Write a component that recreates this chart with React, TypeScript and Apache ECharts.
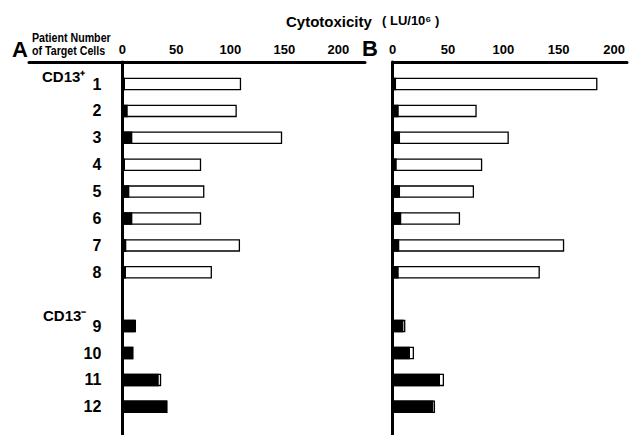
import React, { useEffect, useRef } from "react";
import * as echarts from "echarts";

const categories = ["1", "2", "3", "4", "5", "6", "7", "8", "", "9", "10", "11", "12"];
const openA = [110, 106, 148, 73, 76, 73, 109, 83, null, 12.7, 10.2, 36, 41.7];
const blackA = [2.5, 5, 9.3, 2.5, 6.5, 9.3, 3.7, 3.4, null, 11.8, 10.2, 33.7, 41.7];
const openB = [185, 76, 105, 81, 73.6, 61, 155, 133, null, 11.6, 19.4, 46.5, 38.4];
const blackB = [3.2, 5.6, 6.8, 3.8, 6.8, 7.9, 6.1, 5.6, null, 9.8, 15.8, 42.9, 36.8];
const tickValues = [0, 50, 100, 150, 200];

const SANS = "'Liberation Sans', Arial, Helvetica, sans-serif";

export default function App() {
  const ref = useRef<HTMLDivElement>(null);
  useEffect(() => {
    if (!ref.current) return;
    const chart = echarts.init(ref.current, undefined, { renderer: "svg" });
    const frameX = (min: number, max: number) => ({
      type: "value",
      position: "top",
      min,
      max,
      axisLine: { show: true, onZero: false, lineStyle: { color: "#000", width: 3 } },
      axisTick: { show: false },
      splitLine: { show: false },
      axisLabel: {
        customValues: tickValues,
        color: "#000",
        fontFamily: SANS,
        fontWeight: "bold",
        fontSize: 13,
        margin: 6,
      },
    });
    const frameY = {
      type: "value",
      min: 0,
      max: 1,
      axisLine: { show: true, onZero: true, lineStyle: { color: "#000", width: 3 } },
      axisTick: { show: false },
      axisLabel: { show: false },
      splitLine: { show: false },
    };
    const barX = (max: number) => ({
      type: "value",
      min: 0,
      max,
      show: false,
      splitLine: { show: false },
    });
    const barY = (showLabels: boolean) => ({
      type: "category",
      data: categories,
      inverse: true,
      axisLine: { show: false },
      axisTick: { show: false },
      axisLabel: {
        show: showLabels,
        color: "#000",
        fontFamily: SANS,
        fontWeight: "bold",
        fontSize: 16,
        margin: 21,
      },
    });
    const openStyle = { color: "#fff", borderColor: "#000", borderWidth: 1.3 };
    const blackStyle = { color: "#000", borderColor: "#000", borderWidth: 1.3 };
    const barTop = 70.55;
    const barHeight = 349.7;
    const g = { outerBoundsMode: "none", containLabel: false };
    chart.setOption({
      animation: false,
      backgroundColor: "#fff",
      grid: [
        { ...g, left: 29, top: 62, width: 336, height: 380 },
        { ...g, left: 122.3, top: barTop, width: 242.7, height: barHeight },
        { ...g, left: 392.5, top: 62, width: 234.5, height: 380 },
        { ...g, left: 392.5, top: barTop, width: 234.5, height: barHeight },
      ],
      xAxis: [
        { ...frameX(-86.4, 224.7), gridIndex: 0 },
        { ...barX(224.7), gridIndex: 1 },
        { ...frameX(0, 211.7), gridIndex: 2 },
        { ...barX(211.7), gridIndex: 3 },
      ],
      yAxis: [
        { ...frameY, gridIndex: 0 },
        { ...barY(true), gridIndex: 1 },
        { ...frameY, gridIndex: 2 },
        { ...barY(false), gridIndex: 3 },
      ],
      series: [
        { type: "bar", xAxisIndex: 1, yAxisIndex: 1, data: openA, barWidth: 12.5, barGap: "-100%", itemStyle: openStyle },
        { type: "bar", xAxisIndex: 1, yAxisIndex: 1, data: blackA, barWidth: 12.5, barGap: "-100%", itemStyle: blackStyle },
        { type: "bar", xAxisIndex: 3, yAxisIndex: 3, data: openB, barWidth: 12.5, barGap: "-100%", itemStyle: openStyle },
        { type: "bar", xAxisIndex: 3, yAxisIndex: 3, data: blackB, barWidth: 12.5, barGap: "-100%", itemStyle: blackStyle },
      ],
      graphic: [
        { type: "text", x: 12, y: 49.5, style: { text: "A", fontSize: 22, fontWeight: "bold", fontFamily: SANS, fill: "#000", textVerticalAlign: "middle" } },
        { type: "text", x: 32, y: 38, scaleX: 0.82, style: { text: "Patient Number", fontSize: 13, fontWeight: "bold", fontFamily: SANS, fill: "#000", textVerticalAlign: "middle" } },
        { type: "text", x: 32, y: 51, scaleX: 0.82, style: { text: "of Target Cells", fontSize: 13, fontWeight: "bold", fontFamily: SANS, fill: "#000", textVerticalAlign: "middle" } },
        { type: "text", x: 286, y: 21, style: { text: "Cytotoxicity", fontSize: 15, fontWeight: "bold", fontFamily: SANS, fill: "#000", textVerticalAlign: "middle" } },
        { type: "text", x: 382, y: 20, style: { text: "( LU/10\u2076 )", fontSize: 13, fontWeight: "bold", fontFamily: SANS, fill: "#000", textVerticalAlign: "middle" } },
        { type: "text", x: 362, y: 48.5, style: { text: "B", fontSize: 22, fontWeight: "bold", fontFamily: SANS, fill: "#000", textVerticalAlign: "middle" } },
        { type: "text", x: 42, y: 76.5, style: { text: "CD13\u207A", fontSize: 15, fontWeight: "bold", fontFamily: SANS, fill: "#000", textVerticalAlign: "middle" } },
        { type: "text", x: 43, y: 315, style: { text: "CD13\u207B", fontSize: 15, fontWeight: "bold", fontFamily: SANS, fill: "#000", textVerticalAlign: "middle" } },
      ],
    });
    return () => chart.dispose();
  }, []);
  return (
    <div
      ref={ref}
      style={{ position: "fixed", left: 0, top: 0, width: 632, height: 435, background: "#fff" }}
    />
  );
}
